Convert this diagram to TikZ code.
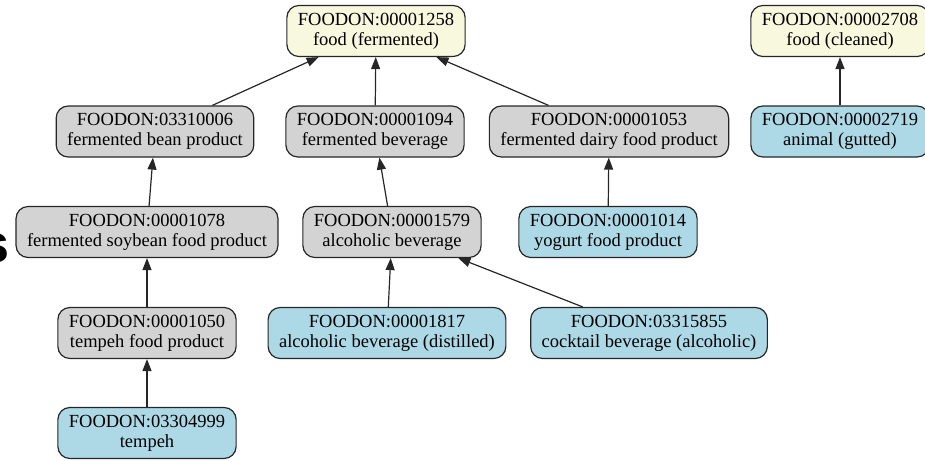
\documentclass[tikz,border=0pt]{standalone}
\usepackage{fontspec}
\setmainfont{Liberation Serif}
\newfontfamily\fragfont{Liberation Sans}
\usetikzlibrary{arrows.meta}

\definecolor{termgrey}{RGB}{211,211,211}
\definecolor{termblue}{RGB}{173,216,230}
\definecolor{termyellow}{RGB}{248,248,222}

\tikzset{
  term/.style={draw=black!85, line width=1.2pt, rounded corners=12pt,
    minimum height=51pt, inner xsep=11pt, align=center,
    font=\fontsize{18.5}{20}\selectfont},
  greyterm/.style={term, fill=termgrey},
  blueterm/.style={term, fill=termblue},
  rootterm/.style={term, fill=termyellow},
  isa/.style={-{Triangle[length=12pt,width=9pt]}, line width=1.2pt, black!85}
}

\begin{document}
\begin{tikzpicture}[x=1pt,y=-1pt]
    \useasboundingbox (0,0) rectangle (925,460);

    % Fragment of a letter at the left edge
    \node[anchor=base east, inner sep=0pt, font=\fragfont\bfseries\fontsize{54}{54}\selectfont] (frag) at (9.5,262) {s};

    % Roots
    \node[rootterm] (f1258) at (376,31) {FOODON:00001258\\food (fermented)};
    \node[rootterm] (f2708) at (840,31) {FOODON:00002708\\food (cleaned)};

    % Second row
    \node[greyterm] (f3310006) at (155,131.5) {FOODON:03310006\\fermented bean product};
    \node[greyterm] (f1094) at (375,131.5) {FOODON:00001094\\fermented beverage};
    \node[greyterm] (f1053) at (609,131.5) {FOODON:00001053\\fermented dairy food product};
    \node[blueterm] (f2719) at (840,131.5) {FOODON:00002719\\animal (gutted)};

    % Third row
    \node[greyterm] (f1078) at (147,232) {FOODON:00001078\\fermented soybean food product};
    \node[greyterm] (f1579) at (392,232) {FOODON:00001579\\alcoholic beverage};
    \node[blueterm] (f1014) at (608,232) {FOODON:00001014\\yogurt food product};

    % Fourth row
    \node[greyterm] (f1050) at (147,333) {FOODON:00001050\\tempeh food product};
    \node[blueterm] (f1817) at (387,333) {FOODON:00001817\\alcoholic beverage (distilled)};
    \node[blueterm] (f3315855) at (649,333) {FOODON:03315855\\cocktail beverage (alcoholic)};

    % Bottom
    \node[blueterm] (f3304999) at (147,433) {FOODON:03304999\\tempeh};

    % is-a links
    \draw[isa] (f3310006) -- (f1258);
    \draw[isa] (f1094) -- (f1258);
    \draw[isa] (f1053) -- (f1258);
    \draw[isa] (f2719) -- (f2708);
    \draw[isa] (f1078) -- (f3310006);
    \draw[isa] (f1579) -- (f1094);
    \draw[isa] (f1014) -- (f1053);
    \draw[isa] (f1050) -- (f1078);
    \draw[isa] (f1817) -- (f1579);
    \draw[isa] (f3315855) -- (f1579);
    \draw[isa] (f3304999) -- (f1050);
\end{tikzpicture}
\end{document}
